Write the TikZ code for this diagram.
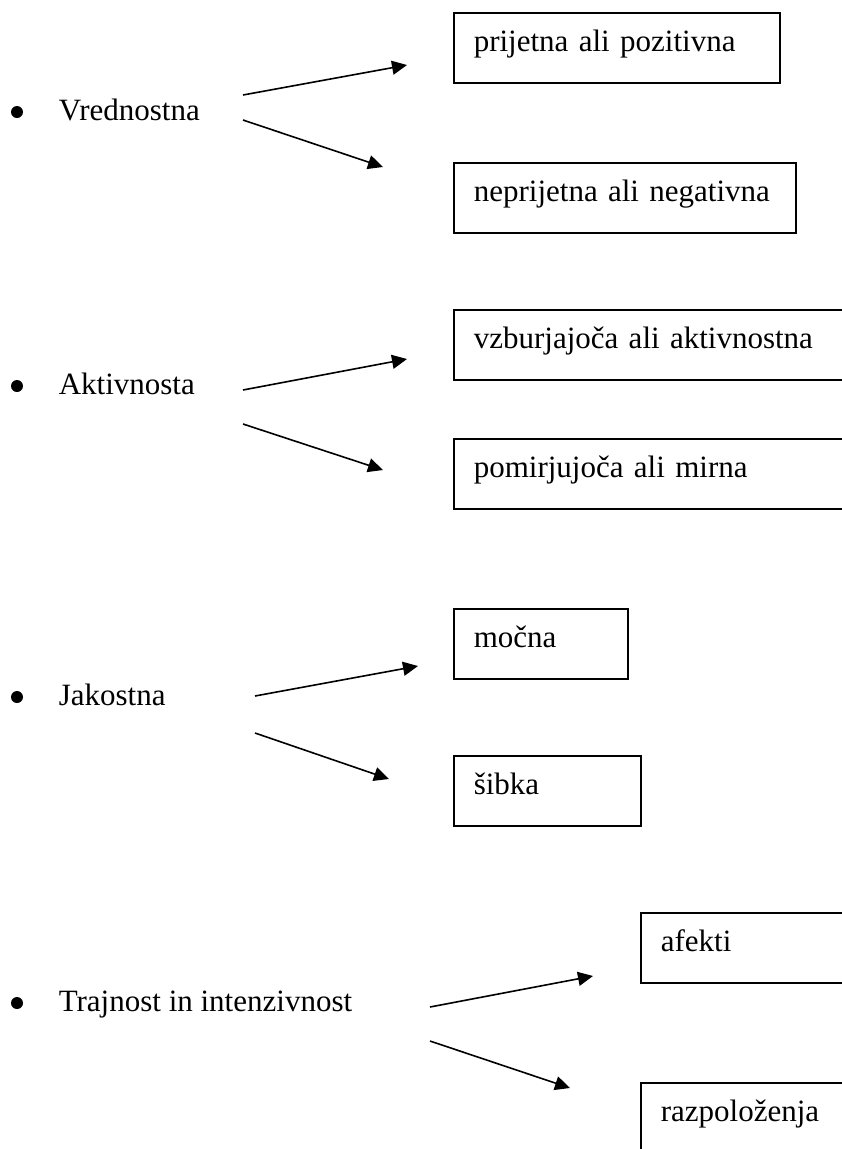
\documentclass[tikz,border=0pt]{standalone}
\usepackage{fontspec}
\setmainfont{Liberation Serif}
\usetikzlibrary{arrows.meta}

\tikzset{every picture/.style={line width=1.6pt}}
\tikzset{
  optbox/.style={draw, anchor=north west, inner xsep=20pt, inner ysep=20pt,
    text height=19pt, text depth=11pt, align=left,
    font=\fontsize{31pt}{37pt}\selectfont},
  catlabel/.style={anchor=base west, inner sep=0pt, font=\fontsize{31pt}{37pt}\selectfont},
  dotmark/.style={circle, fill, inner sep=0pt, minimum size=12pt},
  arr/.style={-{Triangle[length=15pt,width=14pt]}},
}

\begin{document}
\begin{tikzpicture}[x=1pt,y=1pt,yscale=-1,xscale=1]
\clip (0,0) rectangle (842,1149); %page is 842 x 1149, boxes on the right run off it

%Shape: Rectangle [option boxes]
\node [optbox, text width=286pt] (pozit) at (453,12) {prijetna ali pozitivna};
\node [optbox, text width=302pt] (negat) at (453,162) {neprijetna ali negativna};
\node [optbox, text width=380pt] (vzbur) at (453,309) {vzburjajoča ali aktivnostna};
\node [optbox, text width=380pt] (pomir) at (453,438) {pomirjujoča ali mirna};
\node [optbox, text width=134pt] (mocna) at (453,608) {močna};
\node [optbox, text width=147pt] (sibka) at (453,755) {šibka};
\node [optbox, text width=210pt] (afekt) at (640,912) {afekti};
\node [optbox, text width=210pt] (razpo) at (640,1082) {razpoloženja};

% Text Node [bullets]
\node [dotmark] (b1) at (17,112) {};
\node [catlabel] (vred) at (58,120) {Vrednostna};
\node [dotmark] (b2) at (17,386) {};
\node [catlabel] (aktiv) at (58,394) {Aktivnosta};
\node [dotmark] (b3) at (17,697) {};
\node [catlabel] (jakos) at (58,705) {Jakostna};
\node [dotmark] (b4) at (17,1003) {};
\node [catlabel] (trajn) at (58,1011) {Trajnost in intenzivnost};

%Straight Lines [arrow ends]
\coordinate (v1a) at (243,95);   \coordinate (v1b) at (407,65);
\coordinate (v2a) at (243,120);  \coordinate (v2b) at (383,167);
\coordinate (a1a) at (243,390);  \coordinate (a1b) at (407,359);
\coordinate (a2a) at (243,424);  \coordinate (a2b) at (383,470);
\coordinate (j1a) at (255,696);  \coordinate (j1b) at (418,666);
\coordinate (j2a) at (255,733);  \coordinate (j2b) at (389,779);
\coordinate (t1a) at (430,1007); \coordinate (t1b) at (593,976);
\coordinate (t2a) at (430,1041); \coordinate (t2b) at (570,1088);

\draw [arr] (v1a) -- (v1b);
\draw [arr] (v2a) -- (v2b);
\draw [arr] (a1a) -- (a1b);
\draw [arr] (a2a) -- (a2b);
\draw [arr] (j1a) -- (j1b);
\draw [arr] (j2a) -- (j2b);
\draw [arr] (t1a) -- (t1b);
\draw [arr] (t2a) -- (t2b);

\end{tikzpicture}
\end{document}
